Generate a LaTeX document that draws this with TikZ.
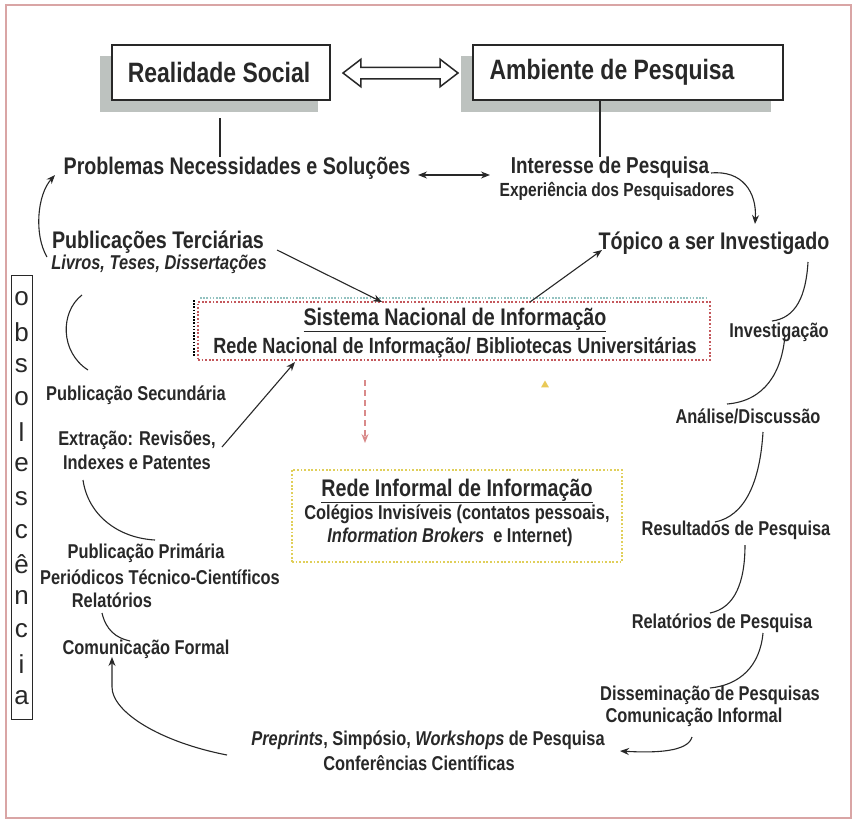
\documentclass[tikz,border=0pt]{standalone}
\usepackage{fontspec}
\setmainfont{Liberation Sans}[FakeStretch=0.82]
\newfontfamily\plainsans{Liberation Sans}
\usetikzlibrary{arrows.meta,shapes.arrows,shapes.geometric}
\definecolor{ink}{HTML}{282828}
\definecolor{frame}{HTML}{D9A5A5}
\definecolor{shade}{HTML}{BDC2BF}
\definecolor{redot}{HTML}{C4585C}
\definecolor{yeldot}{HTML}{E0CF5A}
\definecolor{teal}{HTML}{93C2C0}
\definecolor{dashred}{HTML}{D98A8A}
\definecolor{tri}{HTML}{E9C957}
\tikzset{
  t/.style={inner sep=0pt, text=ink, font=\fontsize{20}{24}\selectfont\bfseries},
  tbig/.style={t, font=\fontsize{28}{32}\selectfont\bfseries},
  tmid/.style={t, font=\fontsize{24}{28}\selectfont\bfseries},
  tint/.style={t, font=\fontsize{23}{27}\selectfont\bfseries},
  tsm/.style={t, font=\fontsize{19}{22}\selectfont\bfseries},
  tletter/.style={t, font=\plainsans\fontsize{26}{26}\selectfont},
  topbox/.style={draw=ink, line width=1.2pt, fill=white, inner sep=0pt},
  shadowbox/.style={fill=shade, draw=none, inner sep=0pt},
  arr/.style={-{Stealth[length=9pt,width=7pt]}, line width=1.1pt, draw=ink},
  ln/.style={line width=1.1pt, draw=ink},
}
\begin{document}
\begin{tikzpicture}[x=1pt,y=-1pt]
\useasboundingbox (0,0) rectangle (855,820);
\fill[white] (0,0) rectangle (855,820);
\draw[frame, line width=1.6pt] (6,5) rectangle (851,818);

% top boxes with shadows
\node[shadowbox, minimum width=218pt, minimum height=56pt] (rsshadow) at (209,84) {};
\node[shadowbox, minimum width=310pt, minimum height=56pt] (ambshadow) at (616,84) {};
\node[topbox, minimum width=218pt, minimum height=55pt] (rsbox) at (221,72.5) {};
\node[tbig] (rs) at (219,72) {Realidade Social};
\node[topbox, minimum width=310pt, minimum height=55pt] (ambbox) at (628,72.5) {};
\node[tbig] (amb) at (612,72) {Ambiente de Pesquisa};
\node[double arrow, draw=ink, fill=white, line width=1.5pt, inner xsep=0pt, inner ysep=5pt,
      minimum height=115pt, double arrow head extend=8pt, double arrow tip angle=75] (dbl) at (400.5,73) {};

% second row
\node[tmid] (prob) at (237,168) {Problemas Necessidades e Soluções};
\node[tint] (inter) at (610,168) {Interesse de Pesquisa};
\node[tsm] (exper) at (617,191) {Experiência dos Pesquisadores};
\coordinate (rsl1) at (220,118);
\coordinate (rsl2) at (220,157);
\draw[ln] (rsl1) -- (rsl2);
\coordinate (ambl) at (600,157);
\draw[ln] (ambbox.south -| ambl) -- (ambl);
\coordinate (pa) at (418,175);
\coordinate (pb) at (490,175);
\draw[line width=1.1pt, draw=ink, {Stealth[length=9pt,width=7pt]}-{Stealth[length=9pt,width=7pt]}] (pa) -- (pb);

\node[tmid] (topico) at (714,243) {Tópico a ser Investigado};
\coordinate (i1) at (711,173);
\coordinate (tP) at (755,224);
\draw[arr] (i1) .. controls (742,170) and (757,192) .. (tP);

% tertiary
\node[tmid] (terc) at (158,242) {Publicações Terciárias};
\node[t, font=\fontsize{20}{24}\selectfont\bfseries\itshape] (livros) at (159,264) {Livros, Teses, Dissertações};
\coordinate (c12a) at (47,257);
\coordinate (c12b) at (55,175);
\draw[arr] (c12a) .. controls (34,235) and (37,195) .. (c12b);

% obsolescencia
\node[draw=ink, line width=1pt, minimum width=21pt, minimum height=444pt, inner sep=0pt] (obs) at (21.5,497.5) {};
\foreach \l [count=\i from 0] in {o,b,s,o,l,e,s,c,ê,n,c,i,a}{
  \node[tletter] (obs\i) at (21.5, 299+\i*33.2) {\l};
}

% Sistema Nacional box
\draw[teal, line width=2.6pt, dash pattern=on 1.6pt off 1.6pt] (200,298) -- (706,298);
\draw[shade, line width=2pt, dash pattern=on 1.6pt off 1.6pt] (194,300) -- (194,356);
\node[draw=redot, line width=2pt, dash pattern=on 1.8pt off 1.8pt, minimum width=512pt, minimum height=58pt, inner sep=0pt] (sisbox) at (454,331) {};
\node[tmid] (sis) at (455,320) {\underline{Sistema Nacional de Informação}};
\node[t, font=\fontsize{22}{26}\selectfont\bfseries] (redenac) at (455,348) {Rede Nacional de Informação/ Bibliotecas Universitárias};

% Informal box
\node[draw=yeldot, line width=2.6pt, dash pattern=on 1.8pt off 1.8pt, minimum width=330pt, minimum height=92pt, inner sep=0pt] (infbox) at (457,516) {};
\node[tmid] (inf) at (457,491) {\underline{Rede Informal de Informação}};
\node[t] (coleg) at (457,514) {Colégios Invisíveis (contatos pessoais,};
\node[t] (ibrok) at (450,537) {\textit{Information Brokers}\ \ e Internet)};

\coordinate (d1) at (365,380);
\coordinate (d2) at (365,443);
\draw[dashred, line width=1.2pt, dash pattern=on 6pt off 4pt, -{Stealth[length=9pt,width=7pt]}] (d1) -- (d2);
\node[regular polygon, regular polygon sides=3, fill=tri, minimum size=9pt, inner sep=0pt] (tri) at (545,385) {};

% arrows to/from Sistema
\coordinate (tercend) at (277,250);
\coordinate (sisin) at (382,302);
\draw[arr] (tercend) -- (sisin);
\coordinate (sisout) at (530,302);
\coordinate (topin) at (602,250);
\draw[arr] (sisout) -- (topin);

% left column
\node[t] (secund) at (136,395) {Publicação Secundária};
\node[t, align=center, font=\fontsize{20}{24}\selectfont\bfseries] (extr) at (137,450) {Extração: Revisões,\\Indexes e Patentes};
\coordinate (extrend) at (222,447);
\coordinate (sisin2) at (295,362);
\draw[arr] (extrend) -- (sisin2);
\coordinate (a11a) at (82,295);
\coordinate (a11b) at (88,370);
\draw[ln] (a11a) .. controls (60,312) and (60,352) .. (a11b);
\coordinate (a10a) at (83,480);
\coordinate (a10b) at (155,540);
\draw[ln] (a10a) .. controls (88,515) and (118,538) .. (a10b);
\node[t] (prim) at (146,553) {Publicação Primária};
\node[t] (peri) at (160,577) {Periódicos Técnico-Científicos};
\node[t] (relat) at (112,600) {Relatórios};
\coordinate (a9a) at (102,613);
\coordinate (a9b) at (130,641);
\draw[ln] (a9a) .. controls (106,630) and (116,638) .. (a9b);
\node[t] (comform) at (146,649) {Comunicação Formal};

% bottom
\node[t] (prep) at (428,740) {\textit{Preprints}, Simpósio, \textit{Workshops} de Pesquisa};
\node[t] (conf) at (419,763) {Conferências Científicas};
\coordinate (a8a) at (227,755);
\coordinate (a8b) at (112,687);
\coordinate (a8c) at (112,657);
\draw[arr] (a8a) .. controls (160,742) and (112,712) .. (a8b) -- (a8c);

% right column
\node[t] (invest) at (779,332) {Investigação};
\node[t] (anal) at (748,416) {Análise/Discussão};
\node[t] (result) at (736,530) {Resultados de Pesquisa};
\node[t] (relp) at (722,623) {Relatórios de Pesquisa};
\node[t] (dissem) at (710,695) {Disseminação de Pesquisas};
\node[t] (cominf) at (694,717) {Comunicação Informal};

\coordinate (r1a) at (808,262);
\coordinate (r1b) at (772,321);
\draw[ln] (r1a) .. controls (806,296) and (796,318) .. (r1b);
\coordinate (r2a) at (785,335);
\coordinate (r2b) at (727,404);
\draw[ln] (r2a) .. controls (782,372) and (765,401) .. (r2b);
\coordinate (r3a) at (763,432);
\coordinate (r3b) at (715,522);
\draw[ln] (r3a) .. controls (760,482) and (745,516) .. (r3b);
\coordinate (r4a) at (745,545);
\coordinate (r4b) at (710,613);
\draw[ln] (r4a) .. controls (745,582) and (735,608) .. (r4b);
\coordinate (r5a) at (763,633);
\coordinate (r5b) at (710,688);
\draw[ln] (r5a) .. controls (760,666) and (740,685) .. (r5b);
\coordinate (r6a) at (692,737);
\coordinate (r6b) at (620,751);
\draw[arr] (r6a) .. controls (688,752) and (655,753) .. (r6b);
\end{tikzpicture}
\end{document}
